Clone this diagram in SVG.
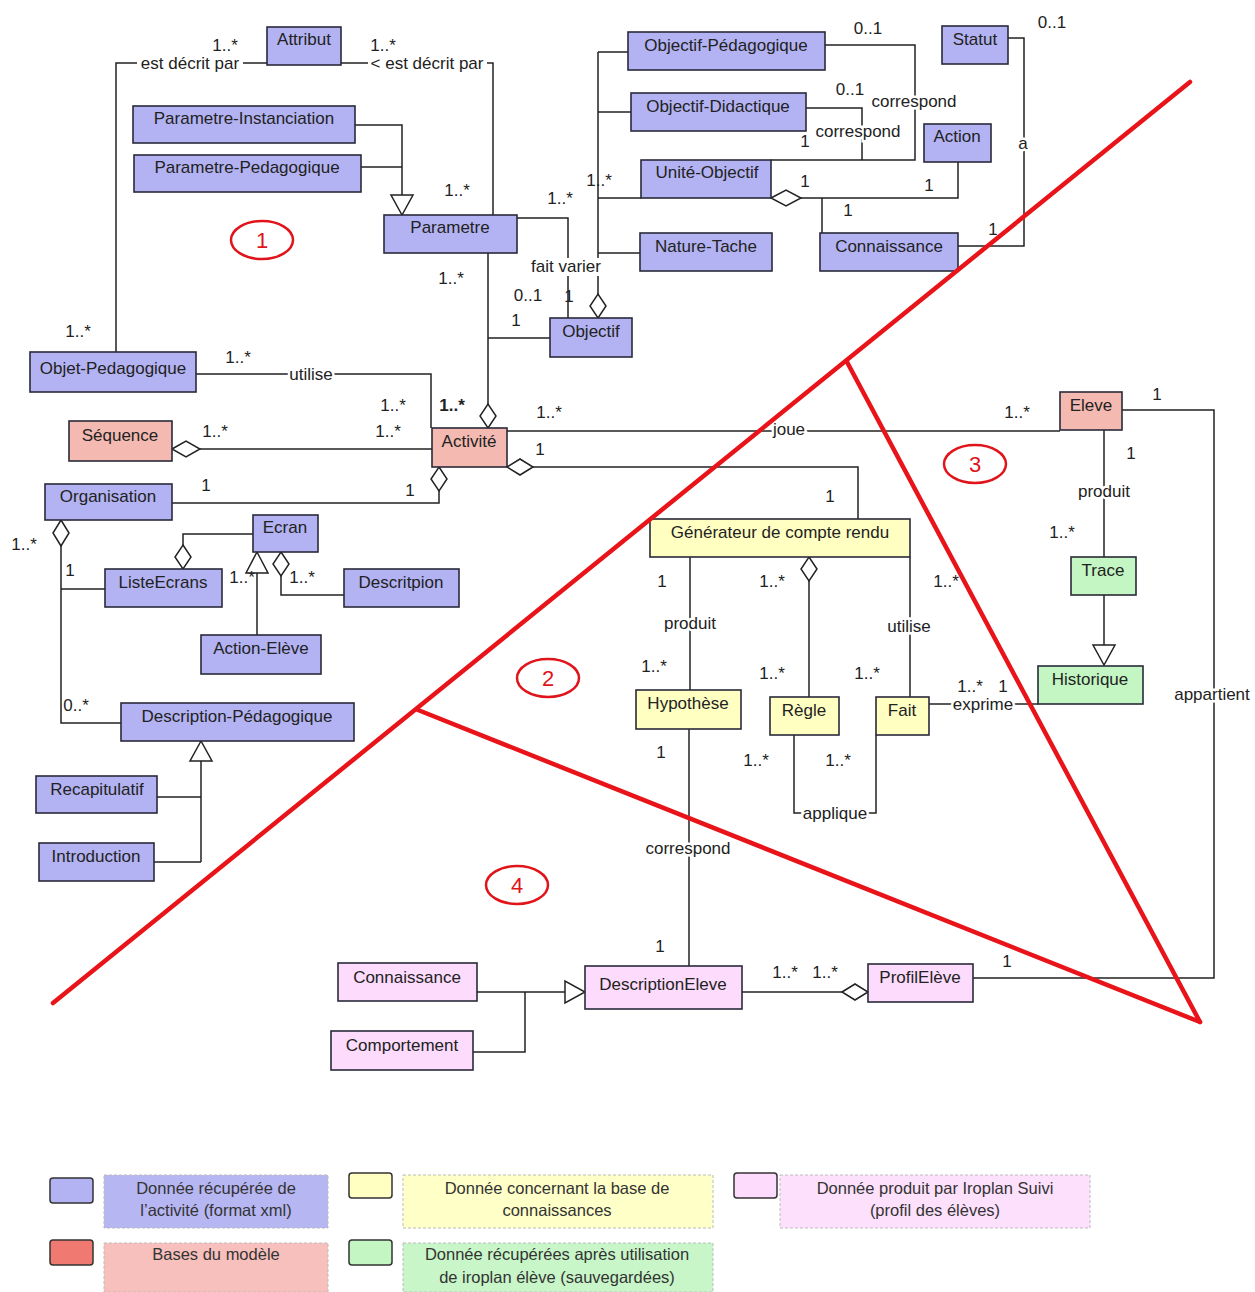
<svg xmlns="http://www.w3.org/2000/svg" width="1255" height="1292" viewBox="0 0 1255 1292">
<style>
.n{stroke:#2a2a3a;stroke-width:1.6}
.b{fill:#b3b3f3}.p{fill:#f4b9b1}.y{fill:#ffffc2}.g{fill:#c3f6c3}.l{fill:#fcdbfc}
text{font-family:"Liberation Sans",Arial,sans-serif;fill:#222}
.t{font-size:17px;text-anchor:middle}
.m{font-size:17px;text-anchor:middle}
.h{paint-order:stroke;stroke:#fff;stroke-width:5px}
.w{fill:#fff}
.c path,.c line{fill:none;stroke:#222;stroke-width:1.5}
.d{fill:#fff;stroke:#222;stroke-width:1.5}
.r{stroke:#e81419;stroke-width:4.5;fill:none;stroke-linecap:round}
.e{fill:none;stroke:#e0141a;stroke-width:2.5}
.en{font-size:22px;fill:#e0141a;text-anchor:middle}
.lg{font-size:16.5px;text-anchor:middle;fill:#333}
.sq{stroke:#333;stroke-width:1.5}
.lb{stroke:#bbb;stroke-width:1;stroke-dasharray:3 2}
</style>

<g id="connectors" class="c">
<path d="M267,63 H116 V352"/>
<path d="M341,63 H493 V215"/>
<path d="M355,125 H402 V195 M361,167 H402"/>
<polygon class="d" points="391,195 413,195 402,215"/>
<path d="M517,218 H568 V318"/>
<path d="M488,253 V404 M488,338 H550"/>
<polygon class="d" points="488,428 496,416 488,404 480,416"/>
<path d="M598,52 V294 M598,52 H628 M598,112 H631 M598,198 H641 M598,253 H640"/>
<polygon class="d" points="598,318 606,306 598,294 590,306"/>
<path d="M825,45 H915 V160 H771"/>
<path d="M806,108 H862 V160"/>
<polygon class="d" points="771,198 786,190 801,198 786,206"/>
<path d="M801,198 H958 V162 M822,198 V233"/>
<path d="M958,246 H1024 V38 H1008"/>
<path d="M196,374 H431 V428"/>
<polygon class="d" points="172,449 186,441 200,449 186,457"/>
<path d="M200,449 H432"/>
<path d="M507,431 H1060"/>
<polygon class="d" points="507,467 520,459 533,467 520,475"/>
<path d="M533,467 H858 V519"/>
<polygon class="d" points="439,467 447,479 439,491 431,479"/>
<path d="M439,491 V503 H172"/>
<polygon class="d" points="61,520 69,533 61,546 53,533"/>
<path d="M61,546 V723 H121 M61,589 H105"/>
<polygon class="d" points="183,545 191,557 183,569 175,557"/>
<path d="M183,545 V534 H253"/>
<polygon class="d" points="257,552 246,573 268,573"/>
<path d="M257,573 V635"/>
<polygon class="d" points="281,552 289,564 281,576 273,564"/>
<path d="M281,576 V595 H344"/>
<polygon class="d" points="201,741 190,761 212,761"/>
<path d="M201,761 V862 M157,797 H201 M154,862 H201"/>
<path d="M1122,410 H1214 V978 H973"/>
<path d="M1104,430 V557"/>
<path d="M1104,595 V645"/>
<polygon class="d" points="1093,645 1115,645 1104,665"/>
<path d="M929,704 H1038"/>
<path d="M690,557 V690"/>
<polygon class="d" points="809,557 817,569 809,581 801,569"/>
<path d="M809,581 V697"/>
<path d="M910,557 V697"/>
<path d="M794,735 V813 H876 V735"/>
<path d="M689,729 V966"/>
<path d="M742,992 H842"/>
<polygon class="d" points="842,992 855,984 868,992 855,1000"/>
<path d="M477,992 H565 M473,1052 H525 V992"/>
<polygon class="d" points="565,981 565,1003 585,992"/>
</g>

<g id="connector-labels" class="m">
<rect class="w" x="137" y="55" width="106" height="16"/>
<text x="190" y="69">est décrit par</text>
<text x="225" y="51">1..*</text>
<text x="78" y="337">1..*</text>
<rect class="w" x="368" y="55" width="119" height="16"/>
<text x="427" y="69">&lt; est décrit par</text>
<text x="383" y="51">1..*</text>
<text x="457" y="196">1..*</text>
<rect class="w" x="530" y="258" width="73" height="18"/>
<text x="566" y="272">fait varier</text>
<text x="560" y="204">1..*</text>
<text x="528" y="301">0..1</text>
<text x="569" y="302">1</text>
<text x="516" y="326">1</text>
<text x="451" y="284">1..*</text>
<text x="452" y="411" font-weight="bold">1..*</text>
<text x="599" y="186">1..*</text>
<text x="914" y="107" class="h">correspond</text>
<text x="868" y="34">0..1</text>
<text x="858" y="137" class="h">correspond</text>
<text x="850" y="95">0..1</text>
<text x="805" y="147">1</text>
<text x="805" y="187">1</text>
<text x="929" y="191">1</text>
<text x="848" y="216">1</text>
<text x="1023" y="149" class="h">a</text>
<text x="993" y="235">1</text>
<text x="1052" y="28">0..1</text>
<text x="311" y="380" class="h">utilise</text>
<text x="238" y="363">1..*</text>
<text x="393" y="411">1..*</text>
<text x="215" y="437">1..*</text>
<text x="388" y="437">1..*</text>
<text x="789" y="435" class="h">joue</text>
<text x="549" y="418">1..*</text>
<text x="1017" y="418">1..*</text>
<text x="540" y="455">1</text>
<text x="830" y="502">1</text>
<text x="206" y="491">1</text>
<text x="410" y="496">1</text>
<text x="24" y="550">1..*</text>
<text x="70" y="576">1</text>
<text x="76" y="711">0..*</text>
<text x="242" y="583">1..*</text>
<text x="302" y="583">1..*</text>
<text x="1212" y="700" class="h">appartient</text>
<text x="1157" y="400">1</text>
<text x="1007" y="967">1</text>
<text x="1104" y="497" class="h">produit</text>
<text x="1131" y="459">1</text>
<text x="1062" y="538">1..*</text>
<text x="983" y="710" class="h">exprime</text>
<text x="970" y="692">1..*</text>
<text x="1003" y="692">1</text>
<text x="690" y="629" class="h">produit</text>
<text x="662" y="587">1</text>
<text x="654" y="672">1..*</text>
<text x="772" y="587">1..*</text>
<text x="772" y="679">1..*</text>
<text x="909" y="632" class="h">utilise</text>
<text x="946" y="587">1..*</text>
<text x="867" y="679">1..*</text>
<text x="835" y="819" class="h">applique</text>
<text x="756" y="766">1..*</text>
<text x="838" y="766">1..*</text>
<text x="688" y="854" class="h">correspond</text>
<text x="661" y="758">1</text>
<text x="660" y="952">1</text>
<text x="785" y="978">1..*</text>
<text x="825" y="978">1..*</text>
</g>

<g id="attribut"><rect class="n b" x="267" y="27" width="74" height="38"/><text class="t" x="304" y="45">Attribut</text></g>
<g id="parametre-instanciation"><rect class="n b" x="133" y="106" width="222" height="37"/><text class="t" x="244" y="124">Parametre-Instanciation</text></g>
<g id="parametre-pedagogique"><rect class="n b" x="134" y="155" width="227" height="37"/><text class="t" x="247" y="173">Parametre-Pedagogique</text></g>
<g id="parametre"><rect class="n b" x="384" y="215" width="133" height="38"/><text class="t" x="450" y="233">Parametre</text></g>
<g id="objectif"><rect class="n b" x="550" y="318" width="82" height="39"/><text class="t" x="591" y="337">Objectif</text></g>
<g id="objectif-pedagogique"><rect class="n b" x="628" y="32" width="197" height="38"/><text class="t" x="726" y="51">Objectif-Pédagogique</text></g>
<g id="objectif-didactique"><rect class="n b" x="631" y="93" width="175" height="38"/><text class="t" x="718" y="112">Objectif-Didactique</text></g>
<g id="unite-objectif"><rect class="n b" x="641" y="160" width="130" height="38"/><text class="t" x="707" y="178">Unité-Objectif</text></g>
<g id="nature-tache"><rect class="n b" x="640" y="233" width="132" height="38"/><text class="t" x="706" y="252">Nature-Tache</text></g>
<g id="connaissance-obj"><rect class="n b" x="820" y="233" width="138" height="38"/><text class="t" x="889" y="252">Connaissance</text></g>
<g id="statut"><rect class="n b" x="942" y="26" width="66" height="38"/><text class="t" x="975" y="45">Statut</text></g>
<g id="action"><rect class="n b" x="924" y="124" width="67" height="38"/><text class="t" x="957" y="142">Action</text></g>
<g id="objet-pedagogique"><rect class="n b" x="30" y="352" width="166" height="40"/><text class="t" x="113" y="374">Objet-Pedagogique</text></g>
<g id="sequence"><rect class="n p" x="69" y="421" width="103" height="40"/><text class="t" x="120" y="441">Séquence</text></g>
<g id="activite"><rect class="n p" x="432" y="428" width="75" height="39"/><text class="t" x="469" y="447" font-size="16">Activité</text></g>
<g id="organisation"><rect class="n b" x="45" y="484" width="127" height="36"/><text class="t" x="108" y="502">Organisation</text></g>
<g id="ecran"><rect class="n b" x="253" y="515" width="65" height="37"/><text class="t" x="285" y="533">Ecran</text></g>
<g id="listeecrans"><rect class="n b" x="105" y="569" width="117" height="38"/><text class="t" x="163" y="588">ListeEcrans</text></g>
<g id="descritpion"><rect class="n b" x="344" y="569" width="115" height="38"/><text class="t" x="401" y="588">Descritpion</text></g>
<g id="action-eleve"><rect class="n b" x="201" y="635" width="120" height="39"/><text class="t" x="261" y="654">Action-Elève</text></g>
<g id="description-pedagogique"><rect class="n b" x="121" y="703" width="233" height="38"/><text class="t" x="237" y="722">Description-Pédagogique</text></g>
<g id="recapitulatif"><rect class="n b" x="36" y="776" width="121" height="37"/><text class="t" x="97" y="795">Recapitulatif</text></g>
<g id="introduction"><rect class="n b" x="39" y="843" width="115" height="38"/><text class="t" x="96" y="862">Introduction</text></g>
<g id="eleve"><rect class="n p" x="1060" y="392" width="62" height="38"/><text class="t" x="1091" y="411">Eleve</text></g>
<g id="trace"><rect class="n g" x="1071" y="557" width="65" height="38"/><text class="t" x="1103" y="576">Trace</text></g>
<g id="historique"><rect class="n g" x="1038" y="666" width="105" height="38"/><text class="t" x="1090" y="685">Historique</text></g>
<g id="generateur"><rect class="n y" x="650" y="519" width="260" height="38"/><text class="t" x="780" y="538">Générateur de compte rendu</text></g>
<g id="hypothese"><rect class="n y" x="636" y="690" width="105" height="39"/><text class="t" x="688" y="709">Hypothèse</text></g>
<g id="regle"><rect class="n y" x="770" y="697" width="69" height="38"/><text class="t" x="804" y="716">Règle</text></g>
<g id="fait"><rect class="n y" x="876" y="697" width="53" height="38"/><text class="t" x="902" y="716">Fait</text></g>
<g id="description-eleve"><rect class="n l" x="585" y="966" width="157" height="43"/><text class="t" x="663" y="990">DescriptionEleve</text></g>
<g id="profil-eleve"><rect class="n l" x="868" y="964" width="105" height="38"/><text class="t" x="920" y="983">ProfilElève</text></g>
<g id="connaissance-profil"><rect class="n l" x="338" y="963" width="139" height="38"/><text class="t" x="407" y="983">Connaissance</text></g>
<g id="comportement"><rect class="n l" x="331" y="1031" width="142" height="39"/><text class="t" x="402" y="1051">Comportement</text></g>

<g id="zones">
<ellipse class="e" cx="262" cy="240" rx="31" ry="19"/><text class="en" x="262" y="248">1</text>
<ellipse class="e" cx="548" cy="678" rx="31" ry="19"/><text class="en" x="548" y="686">2</text>
<ellipse class="e" cx="975" cy="464" rx="31" ry="19"/><text class="en" x="975" y="472">3</text>
<ellipse class="e" cx="517" cy="885" rx="31" ry="19"/><text class="en" x="517" y="893">4</text>
<path class="r" d="M53,1003 L1190,82"/>
<path class="r" d="M847,362 L1200,1022"/>
<path class="r" d="M418,710 L1200,1022"/>
</g>

<g id="legend">
<rect class="lb" x="104" y="1175" width="224" height="53" fill="#b6b6f3"/>
<rect class="lb" x="403" y="1175" width="310" height="53" fill="#ffffc8"/>
<rect class="lb" x="780" y="1175" width="310" height="53" fill="#fce0fc"/>
<rect class="lb" x="104" y="1243" width="224" height="49" fill="#f8c0bc"/>
<rect class="lb" x="403" y="1243" width="310" height="49" fill="#c8f6c8"/>
<rect class="sq" x="50" y="1178" width="43" height="25" rx="3" fill="#b3b3f3"/>
<rect class="sq" x="349" y="1173" width="43" height="25" rx="3" fill="#ffffc2"/>
<rect class="sq" x="734" y="1173" width="43" height="25" rx="3" fill="#fcdbfc"/>
<rect class="sq" x="50" y="1240" width="43" height="25" rx="3" fill="#f07a72"/>
<rect class="sq" x="349" y="1240" width="43" height="25" rx="3" fill="#c3f6c3"/>
<text class="lg" x="216" y="1194">Donnée récupérée de</text>
<text class="lg" x="216" y="1216">l’activité (format xml)</text>
<text class="lg" x="557" y="1194">Donnée concernant la base de</text>
<text class="lg" x="557" y="1216">connaissances</text>
<text class="lg" x="935" y="1194">Donnée produit par Iroplan Suivi</text>
<text class="lg" x="935" y="1216">(profil des élèves)</text>
<text class="lg" x="216" y="1260">Bases du modèle</text>
<text class="lg" x="557" y="1260">Donnée récupérées après utilisation</text>
<text class="lg" x="557" y="1283">de iroplan élève (sauvegardées)</text>
</g>
</svg>
